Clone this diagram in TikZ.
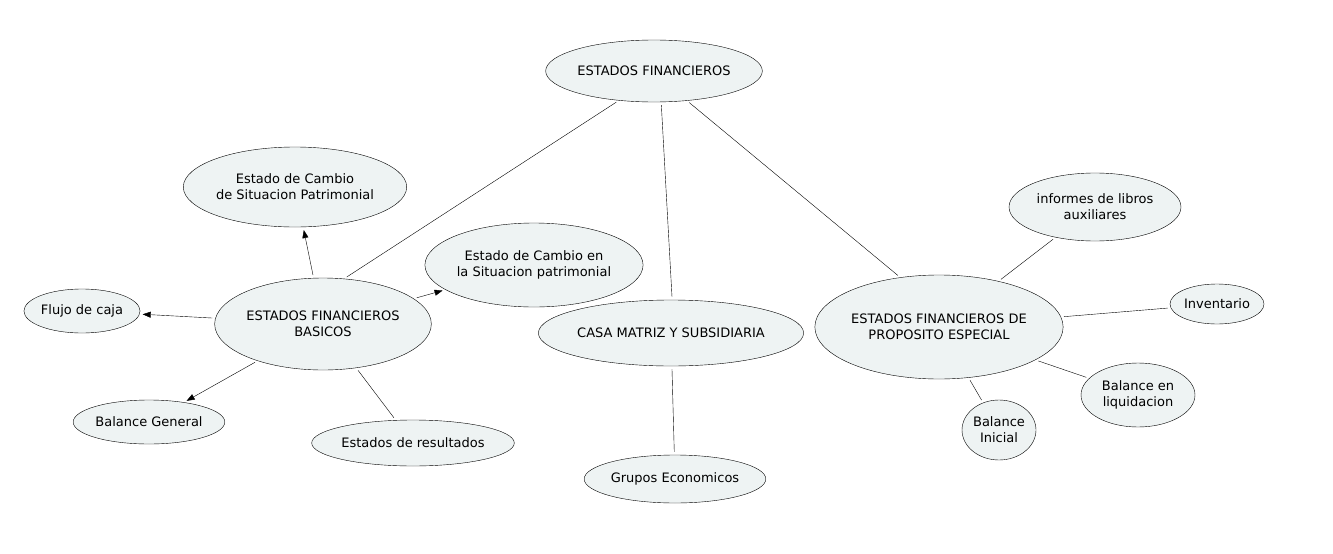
\documentclass[tikz,border=0pt]{standalone}
\usepackage{fontspec}
\setmainfont{DejaVu Sans}
\usetikzlibrary{shapes.geometric,arrows.meta}
\definecolor{nodefill}{HTML}{EEF3F3}
\begin{document}
\begin{tikzpicture}[x=1pt,y=-1pt,
  el/.style={ellipse,draw,fill=nodefill,inner sep=0pt,align=center,font=\fontsize{13}{16}\selectfont},
  ln/.style={shorten <=3pt,shorten >=3pt},
  ar/.style={-{Triangle[length=8pt,width=6pt]},shorten <=3pt,shorten >=3pt}]
\useasboundingbox (0,0) rectangle (1333,554);
\node[el,minimum width=206,minimum height=62] (ef) at (654,71) {ESTADOS FINANCIEROS};
\node[el,minimum width=214,minimum height=80] (ecs) at (295,187) {Estado de Cambio\\de Situacion Patrimonial};
\node[el,minimum width=208,minimum height=84] (ece) at (534,265) {Estado de Cambio en\\la Situacion patrimonial};
\node[el,minimum width=216,minimum height=92] (efb) at (323,324) {ESTADOS FINANCIEROS\\BASICOS};
\node[el,minimum width=116,minimum height=44] (fc) at (82,311) {Flujo de caja};
\node[el,minimum width=142,minimum height=44] (bg) at (149,422) {Balance General};
\node[el,minimum width=182,minimum height=46] (er) at (413,443) {Estados de resultados};
\node[el,minimum width=252,minimum height=66] (cm) at (671,333) {CASA MATRIZ Y SUBSIDIARIA};
\node[el,minimum width=168,minimum height=48] (ge) at (675,479) {Grupos Economicos};
\node[el,minimum width=246,minimum height=104] (efpe) at (939,327) {ESTADOS FINANCIEROS DE\\PROPOSITO ESPECIAL};
\node[el,minimum width=172,minimum height=68] (inf) at (1095,207) {informes de libros\\auxiliares};
\node[el,minimum width=94,minimum height=40] (inv) at (1217,304) {Inventario};
\node[el,minimum width=114,minimum height=64] (bl) at (1138,395) {Balance en\\liquidacion};
\node[el,minimum width=74,minimum height=60] (bi) at (999,430) {Balance\\Inicial};
\draw[ln] (ef.220) -- (efb.65);
\draw[ln] (ef.283) -- (cm.88);
\draw[ln] (ef.318) -- (efpe.128);
\draw[ln] (cm) -- (ge);
\draw[ln] (efpe) -- (inf);
\draw[ln] (efpe) -- (inv);
\draw[ln] (efpe) -- (bl);
\draw[ln] (efpe) -- (bi);
\draw[ar] (efb) -- (ecs);
\draw[ar] (efb) -- (fc);
\draw[ar] (efb) -- (bg);
\draw[ar] (efb) -- (ece);
\draw[ln] (efb) -- (er);
\end{tikzpicture}
\end{document}
